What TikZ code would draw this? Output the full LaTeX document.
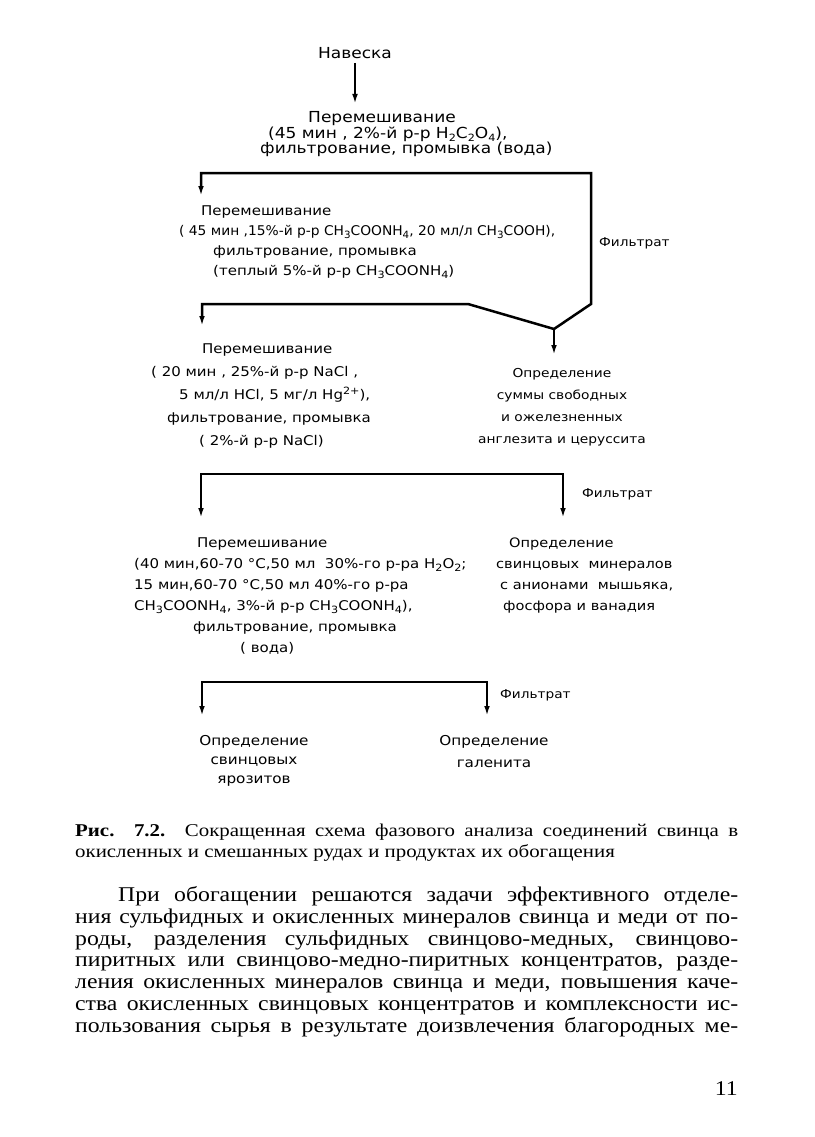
\documentclass[tikz,border=0pt]{standalone}
\usepackage{graphicx}
\usepackage{fontspec}
\setmainfont{Liberation Serif}
\newfontfamily\dfont[FakeStretch=1.12]{DejaVu Sans}
\newfontfamily\capfont[FakeStretch=1.16]{Liberation Serif}
\newfontfamily\bodyfont[FakeStretch=1.13]{Liberation Serif}
\usetikzlibrary{arrows.meta}
\newcommand\lo[1]{\raisebox{-0.35ex}{\fontsize{10}{10}\selectfont#1}}
\newcommand\hi[1]{\raisebox{0.7ex}{\fontsize{10}{10}\selectfont#1}}
\newcommand\jl[1]{\hbox to 663pt{#1}}
\newcommand\tightls{\lineskiplimit-9pt\relax}
\begin{document}
\begin{tikzpicture}[x=1pt,y=-1pt,line cap=butt,line join=miter,>={Latex[length=11pt,width=5.5pt]},
	lbl/.style 2 args={inner sep=0pt,font=\dfont\fontsize{#1}{#2}\selectfont\tightls},
	flow/.style={line width=2.5pt}]
	\path[fill=white] (0,0) rectangle (814,1137);
	\node[lbl={15.2}{17}] (nav) at (355,53) {Навеска};
	\node[lbl={15.2}{15.5},anchor=north west,align=left] (mix1) at (260,111.5)
	{\hspace*{48pt}Перемешивание\\ \hspace*{8pt}(45 мин , 2\%-й р-р H\lo{2}C\lo{2}O\lo{4}),\\ фильтрование, промывка (вода)};
	\node[lbl={13.4}{20},anchor=north west,align=left] (mix2) at (179,206)
	{\hspace*{22pt}Перемешивание\\ \scalebox{0.92}[1]{( 45 мин ,15\%-й р-р CH\lo{3}COONH\lo{4}, 20 мл/л CH\lo{3}COOH),}\\
		\hspace*{34pt}фильтрование, промывка\\ \hspace*{34pt}(теплый 5\%-й р-р CH\lo{3}COONH\lo{4})};
	\node[lbl={13.4}{23},anchor=north west,align=left] (mix3) at (151,344)
	{\hspace*{51pt}Перемешивание\\ ( 20 мин , 25\%-й р-р NaCl ,\\ \hspace*{28pt}5 мл/л HCl, 5 мг/л Hg\hi{2+}),\\
		\hspace*{16pt}фильтрование, промывка\\ \hspace*{48pt}( 2\%-й р-р NaCl)};
	\node[lbl={12.3}{22},anchor=north,align=center] (sum) at (562,368.5)
	{Определение\\суммы свободных\\и ожелезненных\\англезита и церуссита};
	\node[lbl={13.4}{21},anchor=north west,align=left] (mix4) at (134,538)
	{\hspace*{63pt}Перемешивание\\ (40 мин,60-70 °C,50 мл\ \ 30\%-го р-ра H\lo{2}O\lo{2};\\ 15 мин,60-70 °C,50 мл 40\%-го р-ра\\
		CH\lo{3}COONH\lo{4}, 3\%-й р-р CH\lo{3}COONH\lo{4}),\\ \hspace*{59pt}фильтрование, промывка\\ \hspace*{106pt}( вода)};
	\node[lbl={13}{21},anchor=north west,align=left] (minl) at (496,538)
	{\hspace*{13pt}Определение\\свинцовых\ \ минералов\\ \hspace*{4pt}с анионами\ \ мышьяка,\\ \hspace*{7pt}фосфора и ванадия};
	\node[lbl={13.6}{19},anchor=north,align=center] (jar) at (254,735) {Определение\\свинцовых\\ярозитов};
	\node[lbl={13.6}{22},anchor=north,align=center] (gal) at (494,735) {Определение\\галенита};
	\node[lbl={12.2}{14},anchor=west] (f1) at (599,243) {Фильтрат};
	\node[lbl={12.2}{14},anchor=west] (f2) at (582,494) {Фильтрат};
	\node[lbl={12.2}{14},anchor=west] (f3) at (500,695) {Фильтрат};
	\coordinate (s1l) at (201,173);
	\coordinate (s1r) at (591,173);
	\coordinate (s2r) at (591,304);
	\coordinate (apex) at (554,329);
	\coordinate (s2m) at (468,304);
	\coordinate (s2l) at (202,304);
	\coordinate (s3l) at (201,474);
	\coordinate (s3r) at (563,474);
	\coordinate (s4l) at (202,682);
	\coordinate (s4r) at (487,682);
	\draw[flow,->,shorten <=4pt,shorten >=6.5pt] (nav.south) -- (nav.south |- mix1.north);
	\draw[flow,<->,shorten <=9pt,shorten >=17pt] (s1l |- mix2.north) -- (s1l) -- (s1r) -- (s2r) -- (apex)
	-- (s2m) -- (s2l) -- (s2l |- mix3.north);
	\draw[flow,->,shorten >=12.5pt] (apex) -- (apex |- sum.north);
	\draw[flow,<->,shorten <=19pt,shorten >=19pt] (s3l |- mix4.north) -- (s3l) -- (s3r) -- (s3r |- minl.north);
	\draw[flow,<->,shorten <=18pt,shorten >=18pt] (s4l |- jar.north) -- (s4l) -- (s4r) -- (s4r |- gal.north);
	\node[anchor=base west,inner sep=0pt] (cap) at (75,857) {\vbox{\capfont\fontsize{18}{21}\selectfont\tightls
			\jl{\textbf{Рис. 7.2.} Сокращенная схема фазового анализа соединений свинца в}
			\hbox{окисленных и смешанных рудах и продуктах их обогащения}}};
	\node[anchor=base west,inner sep=0pt] (txt) at (75,1032) {\vbox{\bodyfont\fontsize{21}{21.7}\selectfont\tightls
			\jl{\hspace{43pt}При обогащении решаются задачи эффективного отделе-}
			\jl{ния сульфидных и окисленных минералов свинца и меди от по-}
			\jl{роды, разделения сульфидных свинцово-медных, свинцово-}
			\jl{пиритных или свинцово-медно-пиритных концентратов, разде-}
			\jl{ления окисленных минералов свинца и меди, повышения каче-}
			\jl{ства окисленных свинцовых концентратов и комплексности ис-}
			\jl{пользования сырья в результате доизвлечения благородных ме-}}};
	\node[anchor=base east,inner sep=0pt] (pg) at (738,1095) {\bodyfont\fontsize{21}{22}\selectfont 11};
\end{tikzpicture}
\end{document}
